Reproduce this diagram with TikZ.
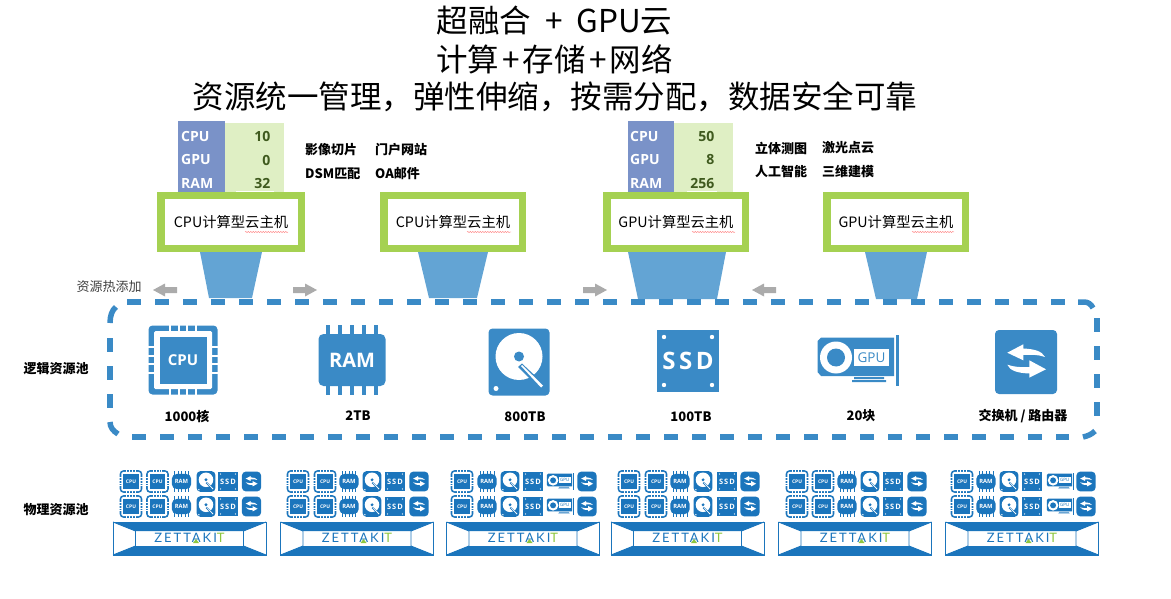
\documentclass[tikz,border=0pt]{standalone}
\usepackage{fontspec}
\setmainfont{Noto Sans CJK SC}
\newfontfamily\latinbold{Open Sans}
\newfontfamily\logofont[LetterSpace=15]{Lato}
\usetikzlibrary{decorations.pathmorphing}
\definecolor{poolblue}{HTML}{3A8AC6}
\definecolor{darkblue}{HTML}{1B75BC}
\definecolor{funnelblue}{HTML}{63A4D4}
\definecolor{frameblue}{HTML}{7A92C8}
\definecolor{tablegreen}{HTML}{DFEFC4}
\definecolor{framegreen}{HTML}{A5D152}
\definecolor{numgreen}{HTML}{3F5A1E}
\definecolor{arrowgray}{HTML}{ABABAB}
\definecolor{logogreen}{HTML}{8DC63F}
\colorlet{ic}{poolblue}
\tikzset{
  titletext/.style={font=\fontsize{31.5}{34}\selectfont,inner sep=0pt,anchor=center},
  vmbox/.style={draw=framegreen,line width=7.5pt,fill=white,inner sep=0pt,minimum height=53pt,font=\fontsize{14.3}{17}\selectfont},
  tablelabel/.style={font=\latinbold\bfseries\fontsize{14}{16}\selectfont,text=white,anchor=west,inner sep=0pt},
  tablenum/.style={font=\latinbold\bfseries\fontsize{14}{16}\selectfont,text=numgreen,anchor=east,inner sep=0pt},
  svc/.style={font=\bfseries\fontsize{13}{14}\selectfont,anchor=west,inner sep=0pt},
  poollabel/.style={font=\bfseries\fontsize{13}{14}\selectfont,inner sep=0pt},
  funnel/.style={fill=funnelblue,draw=none},
  grayarrow/.style={fill=arrowgray,draw=none},
  squiggle/.style={draw=red!70,line width=.3pt,decorate,decoration={snake,amplitude=.5pt,segment length=2.5pt}},
  pooldash/.style={draw=poolblue,line width=5.5pt,dash pattern=on 14pt off 14pt},
  poolcorner/.style={draw=poolblue,line width=5.5pt},
  pics/cpuicon/.style={code={
    \fill[ic,rounded corners=4pt] (-34.5,-34.5) rectangle (34.5,34.5);
    \fill[white,rounded corners=1.5pt] (-29,-29) rectangle (29,29);
    \foreach \g in {-13,-4.3,4.3,13}{
      \fill[white] (\g-1,-35) rectangle (\g+1,-28);
      \fill[white] (\g-1,28) rectangle (\g+1,35);
      \fill[white] (-35,\g-1) rectangle (-28,\g+1);
      \fill[white] (28,\g-1) rectangle (35,\g+1);
    }
    \fill[ic] (-23.5,-23.5) rectangle (23.5,23.5);
    \node[transform shape,text=white,inner sep=0pt,font=\latinbold\bfseries\fontsize{15}{16}\selectfont] (-t) at (0,0) {CPU};
  }},
  pics/ramicon/.style={code={
    \foreach \g in {-24,-12,0,12,24}{\fill[ic] (\g-1.6,-35) rectangle (\g+1.6,35);}
    \fill[ic,rounded corners=5pt] (-33.5,-26) rectangle (33.5,26);
    \node[transform shape,text=white,inner sep=0pt,font=\latinbold\bfseries\fontsize{20}{22}\selectfont] (-t) at (0,0) {RAM};
  }},
  pics/hddicon/.style={code={
    \fill[ic,rounded corners=4pt] (-30.5,-33.5) rectangle (30.5,33.5);
    \fill[white] (0,-5.5) circle (23.5);
    \fill[ic] (0,-5.5) circle (5);
    \fill[white] (-23,26.5) circle (2.5);
    \fill[ic] (-1,5) -- (3,1.5) -- (26,23) -- (22,27.5) -- cycle;
    \fill[white] (2,4) -- (3,3) -- (24,23.5) -- (22,25.5) -- cycle;
  }},
  pics/ssdicon/.style={code={
    \fill[ic] (-31,-31) rectangle (31,31);
    \foreach \a/\b in {-24/-24,24/-24,-24/24,24/24}{\fill[white] (\a,\b) circle (2.2);}
    \node[transform shape,text=white,inner sep=0pt,font=\latinbold\bfseries\fontsize{24}{26}\selectfont] (-t) at (0,0) {S\hspace{3.5pt}S\hspace{3.5pt}D};
  }},
  pics/gpuicon/.style={code={
    \fill[ic] (-36,-23.5) -- (37,-23.5) -- (37,15) -- (-36,15) -- (-39.5,11) -- (-39.5,-20) -- cycle;
    \fill[ic] (38.5,-26) rectangle (41.5,25);
    \fill[ic] (-3,16) rectangle (27,18) (-5,19) rectangle (29,21);
    \fill[white] (-21,-3.5) circle (16);
    \fill[ic] (-21,-3.5) circle (9);
    \fill[white] (-3,-12.5) rectangle (32,5);
    \node[transform shape,text=ic,inner sep=0pt,font=\latinbold\fontsize{13.5}{15}\selectfont] (-t) at (14.5,-3.7) {GPU};
  }},
  pics/swicon/.style={code={
    \fill[ic,rounded corners=4pt] (-31,-32) rectangle (31,32);
    \fill[white] (-18.7,-9.3) -- (-2.7,-17.7) -- (-2.7,-13.5) .. controls (8,-13) and (16,-11) .. (19,-5) .. controls (12,-7.5) and (5,-7.5) .. (-2.7,-7) -- (-2.7,-1.7) -- cycle;
    \fill[white] (20,7.3) -- (3.3,15.7) -- (3.3,11.5) .. controls (-8,11) and (-16,9) .. (-18.7,2.7) .. controls (-12,5) and (-5,5.5) .. (3.3,5) -- (3.3,-1.7) -- cycle;
  }},
  pics/servericon/.style={code={
    \draw[darkblue,line width=.9pt] (-76.5,-16.5) rectangle (76.5,16.5);
    \fill[darkblue] (-76.5,-16.5) -- (76.5,-16.5) -- (54,-7.5) -- (-54,-7.5) -- cycle;
    \fill[darkblue] (-76.5,16.5) -- (76.5,16.5) -- (54,7.5) -- (-54,7.5) -- cycle;
    \draw[darkblue,line width=.9pt] (-76.5,-16.5) -- (-54,-7.5) -- (-54,7.5) -- (-76.5,16.5);
    \draw[darkblue,line width=.9pt] (76.5,-16.5) -- (54,-7.5) -- (54,7.5) -- (76.5,16.5);
    \node[inner sep=0pt,font=\logofont\fontsize{13}{14}\selectfont] (-t) at (0,-.5)
      {\textcolor{darkblue}{ZETTAKI}\textcolor{logogreen}{T}};
    \fill[logogreen] (3.5,4.5) -- (6.5,.5) -- (9.5,4.5) -- cycle;
  }}
}
\newcommand{\iconat}[4]{\pic[scale=#4,transform shape] at (#1,#2) {#3};}
\begin{document}
\begin{tikzpicture}[x=1pt,y=-1pt]
\useasboundingbox (0,0) rectangle (1171,599);
% title
\node[titletext] (title1) at (554.5,21) {超融合\hspace{7pt} + \hspace{7pt}GPU云};
\node[titletext] (title2) at (554.5,59) {计算\hspace{3.2pt}+\hspace{3.2pt}存储\hspace{3.2pt}+\hspace{3.2pt}网络};
\node[titletext] (title3) at (555,97) {资源统一管理，弹性伸缩，按需分配，数据安全可靠};
% tables
\fill[tablegreen] (225,123) rectangle (284,192);
\fill[tablegreen] (674,123) rectangle (733,192);
\fill[white] (236,191) rectangle (274,195);
\fill[white] (687,191) rectangle (717,195);
\fill[frameblue] (178,121) rectangle (225,195);
\fill[frameblue] (628,121) rectangle (674,195);
\node[tablelabel] (l1) at (181,136) {CPU};
\node[tablelabel] (l2) at (181,160) {GPU};
\node[tablelabel] (l3) at (181,183) {RAM};
\node[tablenum] (n1) at (270.5,136) {10};
\node[tablenum] (n2) at (270.5,160) {0};
\node[tablenum] (n3) at (270.5,183) {32};
\node[tablelabel] (l4) at (630,136) {CPU};
\node[tablelabel] (l5) at (630,160) {GPU};
\node[tablelabel] (l6) at (630,183) {RAM};
\node[tablenum] (n4) at (714.5,136) {50};
\node[tablenum] (n5) at (714.5,160) {8};
\node[tablenum] (n6) at (714.5,183) {256};
% service labels
\node[svc] (s1) at (305,150) {影像切片};
\node[svc] (s2) at (375,150) {门户网站};
\node[svc] (s3) at (305,174) {DSM匹配};
\node[svc] (s4) at (375,174) {OA邮件};
\node[svc] (s5) at (755,148) {立体测图};
\node[svc] (s6) at (822,148) {激光点云};
\node[svc] (s7) at (755,172) {人工智能};
\node[svc] (s8) at (822,172) {三维建模};
% funnels
\fill[funnel] (200,252) -- (262,252) -- (252,298) -- (209,298) -- cycle;
\fill[funnel] (418,252) -- (488,252) -- (477,298) -- (429,298) -- cycle;
\fill[funnel] (628,252) -- (726,252) -- (717,299) -- (638,299) -- cycle;
\fill[funnel] (865,252) -- (927,252) -- (917,299) -- (876,299) -- cycle;
% VM boxes
\node[vmbox,minimum width=140.5pt] (vm1) at (231,222) {CPU计算型云主机};
\node[vmbox,minimum width=138.5pt] (vm2) at (453,222) {CPU计算型云主机};
\node[vmbox,minimum width=138.5pt] (vm3) at (676,222) {GPU计算型云主机};
\node[vmbox,minimum width=138.5pt] (vm4) at (896,222) {GPU计算型云主机};
\draw[squiggle] (245,232) -- (288,232);
\draw[squiggle] (467,232) -- (511,232);
\draw[squiggle] (692,232) -- (735,232);
\draw[squiggle] (912,232) -- (954,232);
% gray arrows
\fill[grayarrow] (153,290) -- (165,283.5) -- (165,287) -- (177,287) -- (177,293) -- (165,293) -- (165,296.5) -- cycle;
\fill[grayarrow] (317,290) -- (305,283.5) -- (305,287) -- (293,287) -- (293,293) -- (305,293) -- (305,296.5) -- cycle;
\fill[grayarrow] (607,290) -- (595,283.5) -- (595,287) -- (583,287) -- (583,293) -- (595,293) -- (595,296.5) -- cycle;
\fill[grayarrow] (752,290) -- (764,283.5) -- (764,287) -- (776,287) -- (776,293) -- (764,293) -- (764,296.5) -- cycle;
\node[inner sep=0pt,font=\fontsize{13}{14}\selectfont,text=black!75] (hot) at (109,287) {资源热添加};
% logical pool
\draw[pooldash] (127,302) -- (1077,302);
\draw[pooldash] (132,437) -- (1069,437);
\draw[pooldash] (110,338) -- (110,409);
\draw[pooldash] (1097,318) -- (1097,417);
\draw[poolcorner] (116,307) .. controls (112,310) and (110,316) .. (110,323);
\draw[poolcorner] (110,422) .. controls (110,427) and (113,431) .. (118,434);
\draw[poolcorner] (1083,437) .. controls (1088,436) and (1092,434) .. (1095,431);
\draw[poolcorner] (1078,302) -- (1084,302) .. controls (1088,302) and (1091,304) .. (1093,308);
\node[poollabel] (logic) at (56,369) {逻辑资源池};
\node[poollabel] (phys) at (56,510) {物理资源池};
\pic at (183,360) {cpuicon};
\pic at (352,360) {ramicon};
\pic at (519,362) {hddicon};
\pic at (688,361) {ssdicon};
\pic at (857,361) {gpuicon};
\pic at (1026,362) {swicon};
\node[poollabel] (c1) at (187,416) {1000核};
\node[poollabel] (c2) at (358,416) {2TB};
\node[poollabel] (c3) at (525,417) {800TB};
\node[poollabel] (c4) at (691,417) {100TB};
\node[poollabel] (c5) at (861,416) {20块};
\node[poollabel] (c6) at (1023,416) {交换机 / 路由器};
% physical pool
\begin{scope}
\colorlet{ic}{darkblue}
\foreach \y in {481.5,506.5}{
  \foreach \a/\b/\c/\d/\e/\f in {131/157.5/181.5/206/228/251.5,298/325/349/372/395/419,629/656/680/703/727/750,797/823/847/870/893/917}{
    \iconat{\a}{\y}{cpuicon}{.33}
    \iconat{\b}{\y}{cpuicon}{.33}
    \iconat{\c}{\y}{ramicon}{.29}
    \iconat{\d}{\y}{hddicon}{.31}
    \iconat{\e}{\y}{ssdicon}{.31}
    \iconat{\f}{\y}{swicon}{.31}
  }
  \foreach \a/\c/\d/\e/\g/\f in {462/487/510/533/560/587,962/986/1009/1032/1060/1086}{
    \iconat{\a}{\y}{cpuicon}{.33}
    \iconat{\c}{\y}{ramicon}{.29}
    \iconat{\d}{\y}{hddicon}{.31}
    \iconat{\e}{\y}{ssdicon}{.31}
    \iconat{\g}{\y}{gpuicon}{.33}
    \iconat{\f}{\y}{swicon}{.31}
  }
}
\foreach \x in {189.5,357,523,687.5,855,1022}{
  \pic at (\x,538.5) {servericon};
}
\end{scope}
\end{tikzpicture}
\end{document}
